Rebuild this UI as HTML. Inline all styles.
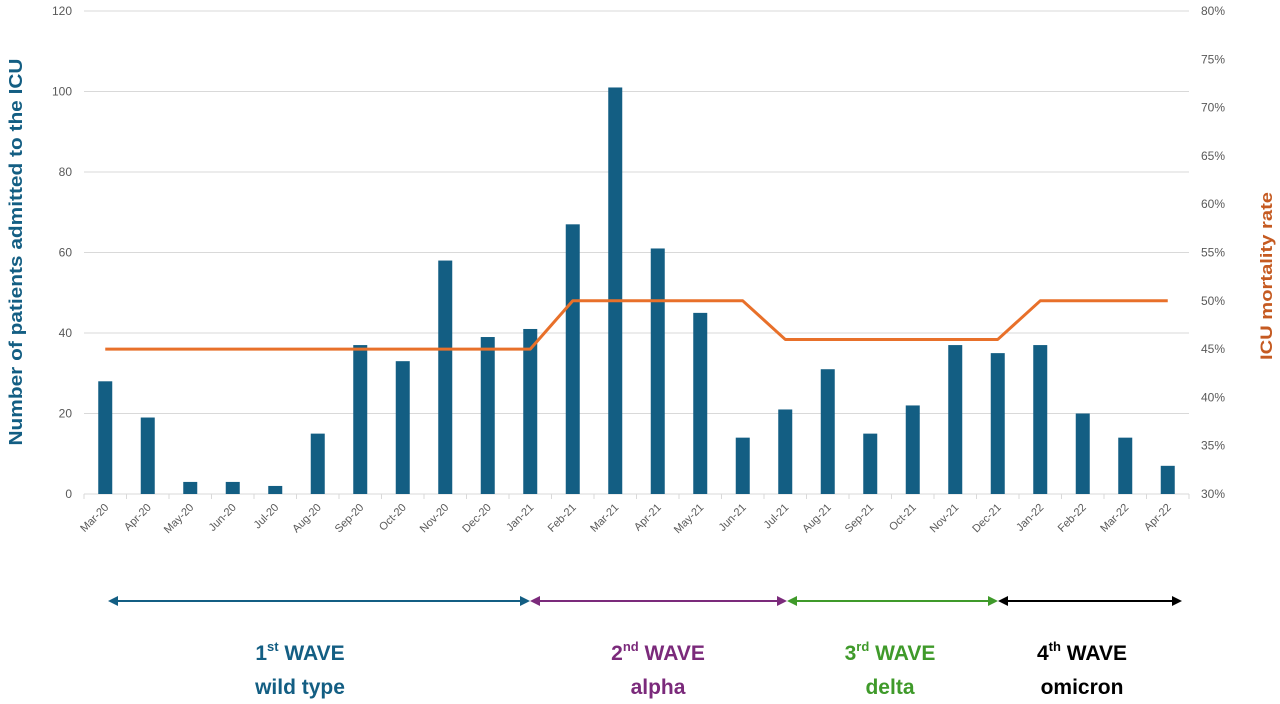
<!DOCTYPE html>
<html><head><meta charset="utf-8"><style>
body{margin:0;background:#fff;width:1280px;height:699px;overflow:hidden;font-family:"Liberation Sans",sans-serif}
</style></head><body>
<svg id="chart" width="1280" height="699" xmlns="http://www.w3.org/2000/svg" font-family="Liberation Sans, sans-serif"></svg>
<script>
const categories=["Mar-20","Apr-20","May-20","Jun-20","Jul-20","Aug-20","Sep-20","Oct-20","Nov-20","Dec-20","Jan-21","Feb-21","Mar-21","Apr-21","May-21","Jun-21","Jul-21","Aug-21","Sep-21","Oct-21","Nov-21","Dec-21","Jan-22","Feb-22","Mar-22","Apr-22"];
const admissions=[28,19,3,3,2,15,37,33,58,39,41,67,101,61,45,14,21,31,15,22,37,35,37,20,14,7];
const mortality=[45,45,45,45,45,45,45,45,45,45,45,50,50,50,50,50,46,46,46,46,46,46,50,50,50,50];
const leftTicks=[0,20,40,60,80,100,120];
const rightTicks=[30,35,40,45,50,55,60,65,70,75,80];
const svg=document.getElementById('chart');
const NS='http://www.w3.org/2000/svg';
const X0=84,X1=1189,YT=11,YB=494;
const bw=(X1-X0)/categories.length;
const xC=i=>X0+bw*(i+0.5);
const yL=v=>YB-(v/120)*(YB-YT);
const yR=v=>YB-((v-30)/50)*(YB-YT);
function mk(t,a,p){const e=document.createElementNS(NS,t);for(const k in a)e.setAttribute(k,a[k]);(p||svg).appendChild(e);return e;}
leftTicks.forEach(v=>{
 const l=mk('line',{x1:X0,x2:X1,y1:yL(v),y2:yL(v),stroke:'#d9d9d9','stroke-width':1});
 
 
 const t=mk('text',{x:72,y:yL(v)+4,'text-anchor':'end','font-size':12,fill:'#595959'});t.textContent=v;
 
 
});
rightTicks.forEach(v=>{
 const t=mk('text',{x:1201,y:yR(v)+4,'font-size':12,fill:'#595959'});t.textContent=v+'%';
 
 
});
for(let i=0;i<=categories.length;i++){mk('line',{x1:X0+bw*i,x2:X0+bw*i,y1:YB,y2:YB+5,stroke:'#d9d9d9'});}
admissions.forEach((v,i)=>{
 const r=mk('rect',{x:xC(i)-7,y:yL(v),width:14,height:YB-yL(v),fill:'#135e83'});
 
 
});
categories.forEach((c,i)=>{
 const x=xC(i)+4,y=YB+14;
 const t=mk('text',{x:x,y:y,'text-anchor':'end','font-size':11,fill:'#595959',transform:`rotate(-45 ${x} ${y})`});t.textContent=c;
 
 
});
const pl=mk('polyline',{points:mortality.map((v,i)=>xC(i)+','+yR(v)).join(' '),fill:'none',stroke:'#e8702a','stroke-width':3,'stroke-linejoin':'round'});


let t=mk('text',{x:22,y:252,'text-anchor':'middle','font-size':18,'font-weight':'bold',fill:'#135e83',textLength:387,lengthAdjust:'spacingAndGlyphs',transform:'rotate(-90 22 252)'});t.textContent='Number of patients admitted to the ICU';


t=mk('text',{x:1272,y:276,'text-anchor':'middle','font-size':17,'font-weight':'bold',fill:'#c55a21',textLength:168,lengthAdjust:'spacingAndGlyphs',transform:'rotate(-90 1272 276)'});t.textContent='ICU mortality rate';


const waves=[[108,530,'#135e83','1','st','wild type',300],[530,787,'#7b2a7b','2','nd','alpha',658],[787,998,'#3f9a2a','3','rd','delta',890],[998,1182,'#000','4','th','omicron',1082]];
waves.forEach(w=>{
 const g=mk('g',{});
 
 
 mk('line',{x1:w[0]+6,x2:w[1]-6,y1:601,y2:601,stroke:w[2],'stroke-width':2},g);
 mk('polygon',{points:`${w[0]},601 ${w[0]+10},596 ${w[0]+10},606`,fill:w[2]},g);
 mk('polygon',{points:`${w[1]},601 ${w[1]-10},596 ${w[1]-10},606`,fill:w[2]},g);
 const a=mk('text',{x:w[6],y:660,'text-anchor':'middle','font-size':21,'font-weight':'bold',fill:w[2]},g);
 a.innerHTML=`${w[3]}<tspan font-size="13" dy="-9">${w[4]}</tspan><tspan dy="9"> WAVE</tspan>`;
 const b=mk('text',{x:w[6],y:694,'text-anchor':'middle','font-size':21,'font-weight':'bold',fill:w[2]},g);b.textContent=w[5];
});
</script>
</body></html>
